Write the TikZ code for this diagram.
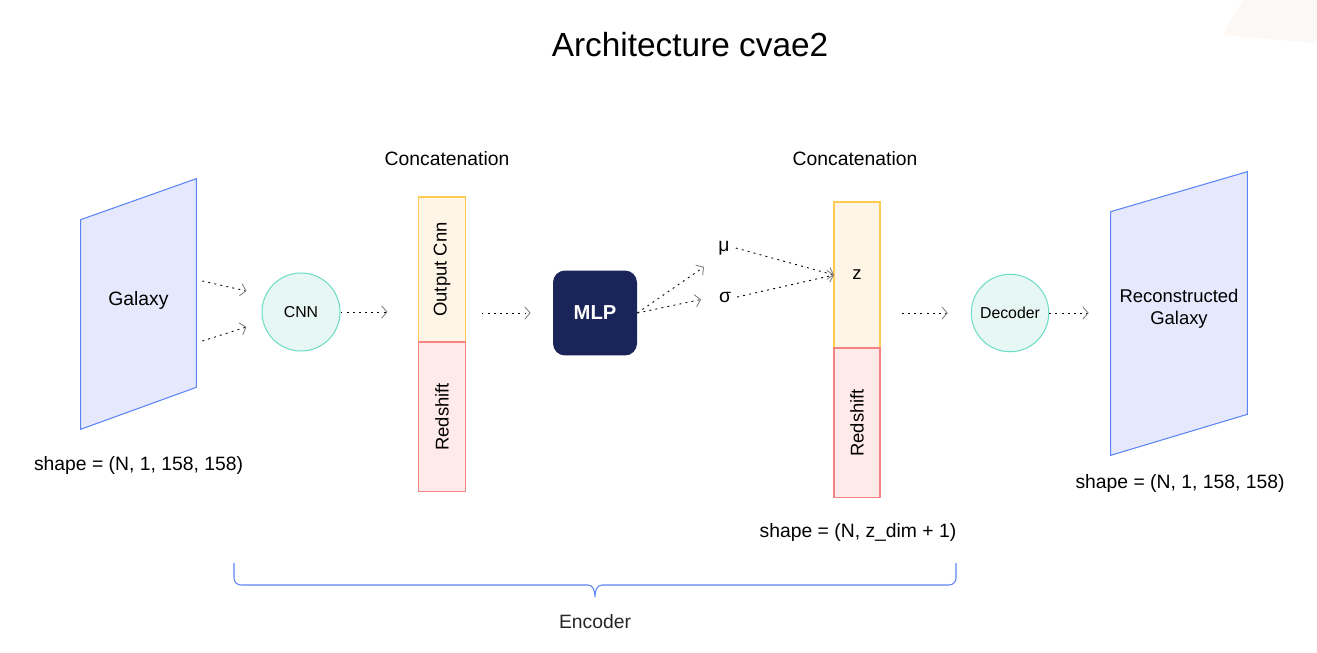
\documentclass[tikz,border=0pt]{standalone}
\usepackage{fontspec}
\setmainfont{Liberation Sans}
\definecolor{galblue}{RGB}{230, 233, 253}
\definecolor{galline}{RGB}{91, 132, 245}
\definecolor{nettint}{RGB}{231, 247, 243}
\definecolor{netline}{RGB}{111, 221, 198}
\definecolor{cnnfill}{RGB}{255, 245, 231}
\definecolor{cnnline}{RGB}{255, 203, 82}
\definecolor{redfill}{RGB}{255, 234, 234}
\definecolor{redline}{RGB}{245, 131, 131}
\definecolor{mlpnavy}{RGB}{27, 36, 89}
\definecolor{cornertint}{RGB}{252, 248, 245}
\usepackage{tikz}
\usetikzlibrary{arrows.meta, positioning, calc}

\begin{document}
\begin{tikzpicture}[x=0.02cm, y=-0.02cm,
  txt/.style={font=\fontsize{11}{13}\selectfont},
  flow/.style={draw=black, line width=0.5pt, dash pattern=on 1.1pt off 2.4pt, -{Straight Barb[length=3pt, width=7pt, color=gray]}},
  plane/.style={draw=galline, fill=galblue, line width=0.6pt},
  netnode/.style={circle, draw=netline, fill=nettint, line width=0.6pt, minimum size=1.56cm, inner sep=0pt, font=\fontsize{9}{11}\selectfont},
  vecbox/.style={draw, line width=0.6pt, minimum width=0.94cm, outer sep=0pt, inner sep=0pt, font=\fontsize{10.5}{12}\selectfont}]
  \useasboundingbox (0,0) rectangle (1317,652);
  \fill[cornertint] (1243,0) -- (1223,35) -- (1317,43) -- (1317,0) -- cycle;

  % Title
  \node[font=\fontsize{19}{23}\selectfont] (title) at (690,45) {Architecture cvae2};

  % Input galaxy
  \node[minimum width=2.3cm, minimum height=5cm, inner sep=0pt] (gal) at (138.5,304) {};
  \draw[plane] ($(gal.north west)+(0,41)$) -- (gal.north east) -- ($(gal.south east)+(0,-42)$) -- (gal.south west) -- cycle;
  \node[txt] (galtext) at ($(gal)+(0,-4)$) {Galaxy};
  \node[txt] (galshape) at (138.5,465) {shape = (N, 1, 158, 158)};

  \node[netnode] (cnn) at (301,312) {CNN};

  % First concatenation
  \node[txt] (cat1) at (447,159) {Concatenation};
  \node[vecbox, draw=cnnline, fill=cnnfill, minimum height=2.9cm] (cnnout) at (442,269.5) {\rotatebox{90}{Output Cnn}};
  \node[vecbox, draw=redline, fill=redfill, minimum height=3cm, below=0pt of cnnout] (red1) {\rotatebox{90}{Redshift}};

  \node[fill=mlpnavy, rounded corners=0.24cm, minimum width=1.68cm, minimum height=1.7cm, text=white, font=\bfseries\fontsize{11.5}{13}\selectfont] (mlp) at (595,313) {MLP};

  \node[txt] (mu) at (724,248) {μ};
  \node[txt] (sigma) at (725,297) {σ};

  % Second concatenation
  \node[txt] (cat2) at (855,159) {Concatenation};
  \node[vecbox, draw=cnnline, fill=cnnfill, minimum width=0.92cm, minimum height=2.92cm] (zbox) at (857,275) {z};
  \node[vecbox, draw=redline, fill=redfill, minimum width=0.92cm, minimum height=3cm, below=0pt of zbox] (red2) {\rotatebox{90}{Redshift}};
  \node[txt] (zshape) at (858,532) {shape = (N, z\_dim + 1)};

  \node[netnode, minimum size=1.55cm] (dec) at (1010,313) {Decoder};

  % Output galaxy
  \node[minimum width=2.72cm, minimum height=5.66cm, inner sep=0pt] (rec) at (1179,313.5) {};
  \draw[plane] ($(rec.north west)+(0,40)$) -- (rec.north east) -- ($(rec.south east)+(0,-41)$) -- (rec.south west) -- cycle;
  \node[txt, align=center, font=\fontsize{10.5}{12.5}\selectfont] (rectext) at ($(rec)+(0,-5)$) {Reconstructed\\Galaxy};
  \node[txt] (recshape) at (1180,483) {shape = (N, 1, 158, 158)};

  % Connectors
  \draw[flow] ($(gal.east)+(6,-23)$) -- ($(cnn.west)+(-15,-21)$);
  \draw[flow] ($(gal.east)+(6,37)$) -- ($(cnn.west)+(-15,15)$);
  \draw[flow, shorten >=0.62cm] (cnn.east) -- (cnn.east -| cnnout.west);
  \draw[flow, shorten <=0.32cm, shorten >=0.44cm] (cnnout.east |- mlp.west) -- (mlp.west);
  \draw[flow, shorten >=0.2cm] (mlp.east) -- (mu.south west);
  \draw[flow, shorten >=0.24cm] (mlp.east) -- (sigma.west);
  \draw[flow] (mu.east) -- (zbox.west);
  \draw[flow] (sigma.east) -- (zbox.west);
  \draw[flow, shorten <=0.44cm, shorten >=0.46cm] (zbox.east |- dec.west) -- (dec.west);
  \draw[flow, shorten >=0.44cm] (dec.east) -- (dec.east -| rec.west);

  % Encoder brace
  \draw[galline, line width=0.6pt] (234,563) -- (234,578) to[out=-90, in=180] (241,585) -- (588,585) to[out=0, in=90] (595,597) to[out=90, in=180] (602,585) -- (949,585) to[out=0, in=-90] (956,578) -- (956,563);
  \node[txt, text=black!85] (enc) at (595,622) {Encoder};
\end{tikzpicture}
\end{document}
